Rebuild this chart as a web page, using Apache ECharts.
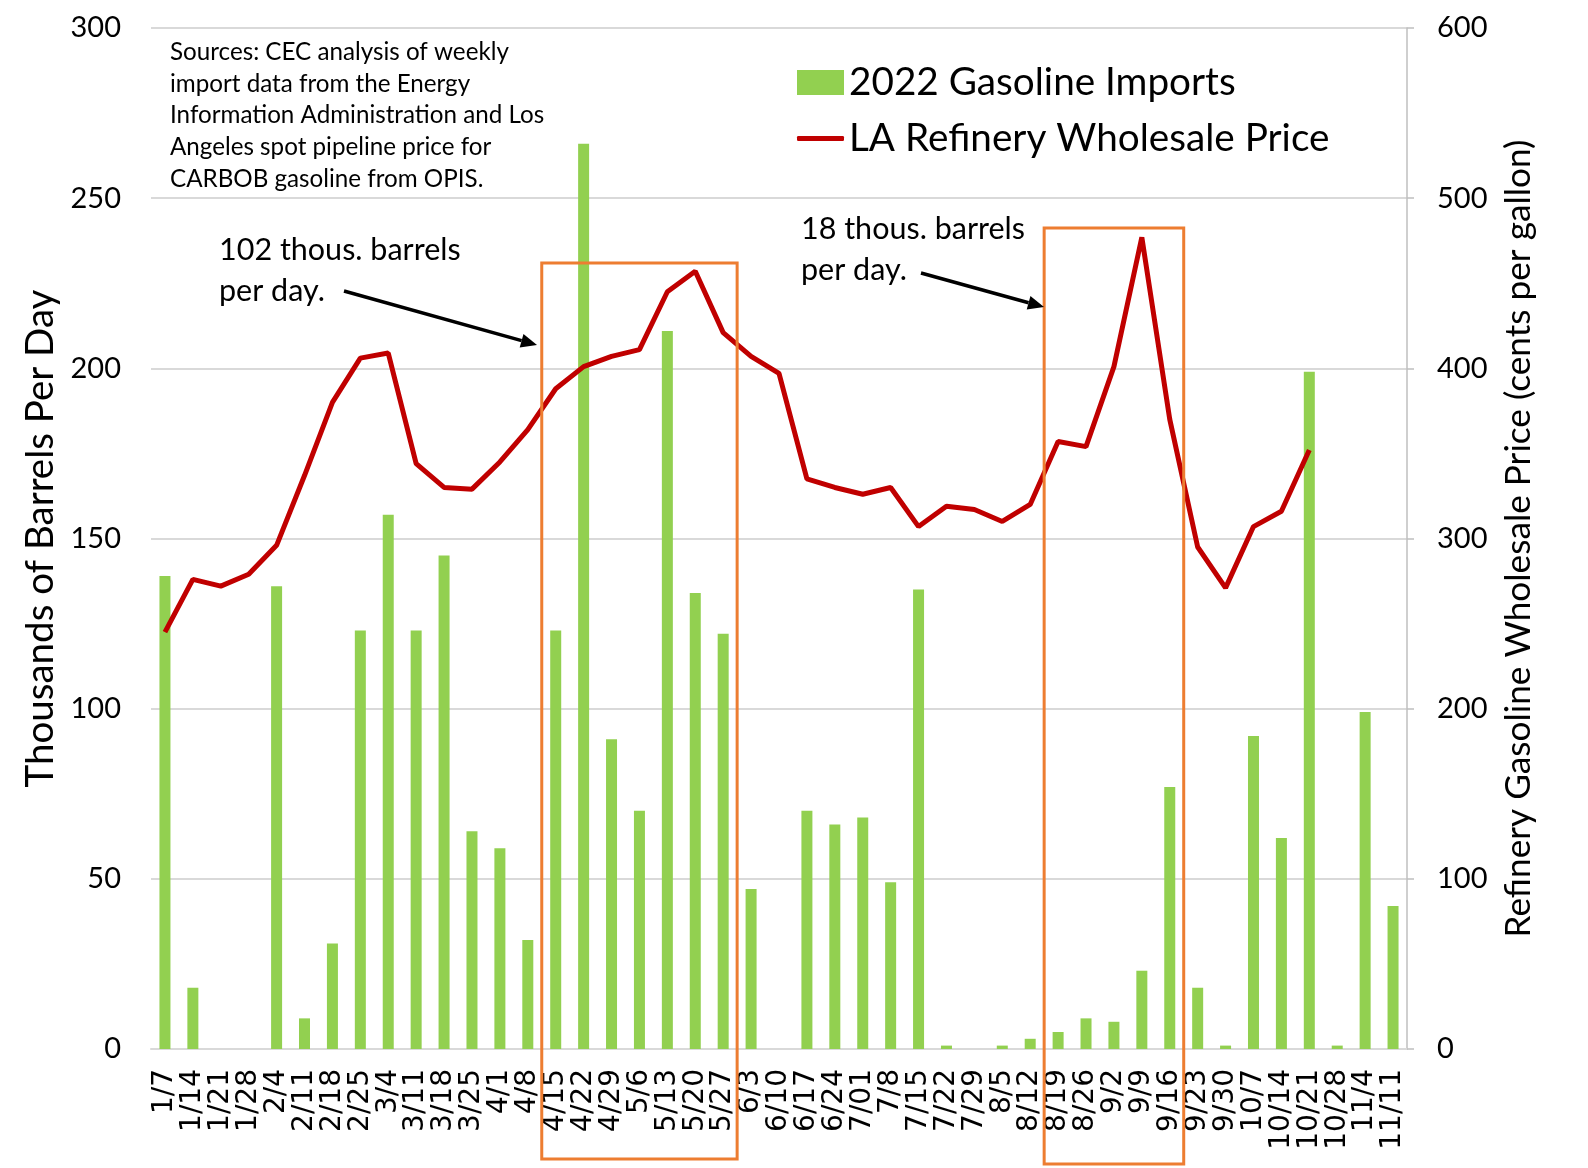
<!DOCTYPE html>
<html>
<head>
<meta charset="utf-8">
<script src="https://cdn.jsdelivr.net/npm/echarts@6.0.0/dist/echarts.min.js"></script>
<style>
html,body{margin:0;padding:0;background:#fff}
#main{width:1588px;height:1168px}
</style>
</head>
<body>
<div id="main"></div>
<script>
//weekly categories, 2022
var weeks = ['1/7','1/14','1/21','1/28','2/4','2/11','2/18','2/25','3/4','3/11','3/18','3/25','4/1','4/8','4/15','4/22','4/29','5/6','5/13','5/20','5/27','6/3','6/10','6/17','6/24','7/01','7/8','7/15','7/22','7/29','8/5','8/12','8/19','8/26','9/2','9/9','9/16','9/23','9/30','10/7','10/14','10/21','10/28','11/4','11/11'];
//thousands of barrels per day
var imports = [139,18,0,0,136,9,31,123,157,123,145,64,59,32,123,266,91,70,211,134,122,47,0,70,66,68,49,135,1,0,1,3,5,9,8,23,77,18,1,92,62,199,1,99,42];
//cents per gallon (no data after 10/21)
var price = [245,276,272,279,296,337,380,406,409,344,330,329,345,364,388,401,407,411,445,457,421,407,397,335,330,326,330,307,319,317,310,320,357,354,401,477,370,295,271,307,316,352,null,null,null];

var leftMax = 300, leftStep = 50;
var rightMax = 600, rightStep = 100;

var sourceNote = ['Sources: CEC analysis of weekly','import data from the Energy','Information Administration and Los','Angeles spot pipeline price for','CARBOB gasoline from OPIS.'];
//highlighted periods and their callouts
var callouts = [
  {from:'4/15', to:'5/27', lines:['102 thous. barrels','per day.']},
  {from:'8/19', to:'9/16', lines:['18 thous. barrels','per day.']}
];

var FONT = 'Lato';
var chart = echarts.init(document.getElementById('main'));

var legendText = {fontFamily:FONT, fontSize:38.7, color:'#000'};
var opt = {
  animation:false,
  grid:{left:151, right:181, top:28, bottom:119},
  legend:[
    {data:[{name:'2022 Gasoline Imports', icon:'rect'}], left:797, top:63, padding:0, itemWidth:47, itemHeight:25,
      textStyle:legendText},
    {data:[{name:'LA Refinery Wholesale Price', icon:'roundRect'}], left:797, top:119, padding:0, itemWidth:47, itemHeight:5,
      textStyle:legendText}
  ],
  xAxis:{
    type:'category', data:weeks,
    axisLine:{lineStyle:{color:'#d9d9d9', width:2}},
    axisTick:{show:false},
    axisLabel:{interval:0, rotate:90, margin:20, fontFamily:'DejaVu Sans', fontSize:28, color:'#000'}
  },
  yAxis:[
    {type:'value', min:0, max:leftMax, interval:leftStep,
      name:'Thousands of Barrels Per Day', nameLocation:'middle', nameGap:91,
      nameTextStyle:{fontFamily:FONT, fontSize:38.5, color:'#000'},
      axisLine:{show:false}, axisTick:{show:false},
      axisLabel:{margin:30, fontFamily:FONT, fontSize:29, color:'#000'},
      splitLine:{lineStyle:{color:'#d9d9d9', width:2}}},
    {type:'value', min:0, max:rightMax, interval:rightStep, position:'right',
      name:'Refinery Gasoline Wholesale Price (cents per gallon)', nameLocation:'middle', nameGap:94,
      nameTextStyle:{fontFamily:FONT, fontSize:35.2, color:'#000'},
      axisLine:{show:true, lineStyle:{color:'#bfbfbf', width:1.5}},
      axisTick:{show:true, length:7, lineStyle:{color:'#bfbfbf', width:1.5}},
      axisLabel:{margin:30, fontFamily:FONT, fontSize:29, color:'#000'},
      splitLine:{show:false}}
  ],
  series:[
    {name:'2022 Gasoline Imports', type:'bar', data:imports, barWidth:11,
      itemStyle:{color:'#92d050'}},
    {name:'LA Refinery Wholesale Price', type:'line', yAxisIndex:1, data:price,
      symbol:'none', connectNulls:false,
      lineStyle:{color:'#c00000', width:5}, itemStyle:{color:'#c00000'}}
  ]
};
chart.setOption(opt);

//overlay: notes, orange boxes, arrows (x from category axis)
var catX = c=>chart.convertToPixel({xAxisIndex:0}, c);
var band = (1588-151-181)/weeks.length;
var boxY = [[263,1159],[228,1164]];
var textPos = [[219,253],[801,232]];
var arrows = [[344,291,537,345],[921,273,1044,307]];

var g = [];
sourceNote.forEach((s,i)=>g.push({type:'text', left:170, top:55+i*31.8-15,
  style:{text:s, fontFamily:FONT, fontSize:24.2, fill:'#000'}}));

callouts.forEach((c,i)=>{
  var x0 = catX(c.from)-band/2, x1 = catX(c.to)+band/2;
  g.push({type:'rect', shape:{x:x0, y:boxY[i][0], width:x1-x0, height:boxY[i][1]-boxY[i][0]},
    style:{fill:'none', stroke:'#ed7d31', lineWidth:3}, z:100});
  c.lines.forEach((s,j)=>g.push({type:'text', left:textPos[i][0], top:textPos[i][1]+j*40.5-18,
    style:{text:s, fontFamily:FONT, fontSize:30.5, fill:'#000'}}));
  var a = arrows[i], dx=a[2]-a[0], dy=a[3]-a[1], L=Math.sqrt(dx*dx+dy*dy), ux=dx/L, uy=dy/L;
  var hl=16, hw=7;
  var bx=a[2]-ux*hl, by=a[3]-uy*hl;
  g.push({type:'line', shape:{x1:a[0], y1:a[1], x2:bx, y2:by}, style:{stroke:'#000', lineWidth:3.5}, z:100});
  g.push({type:'polygon', shape:{points:[[a[2],a[3]],[bx-uy*hw,by+ux*hw],[bx+uy*hw,by-ux*hw]]}, style:{fill:'#000'}, z:100});
});
chart.setOption({graphic:g});
</script>
</body>
</html>
